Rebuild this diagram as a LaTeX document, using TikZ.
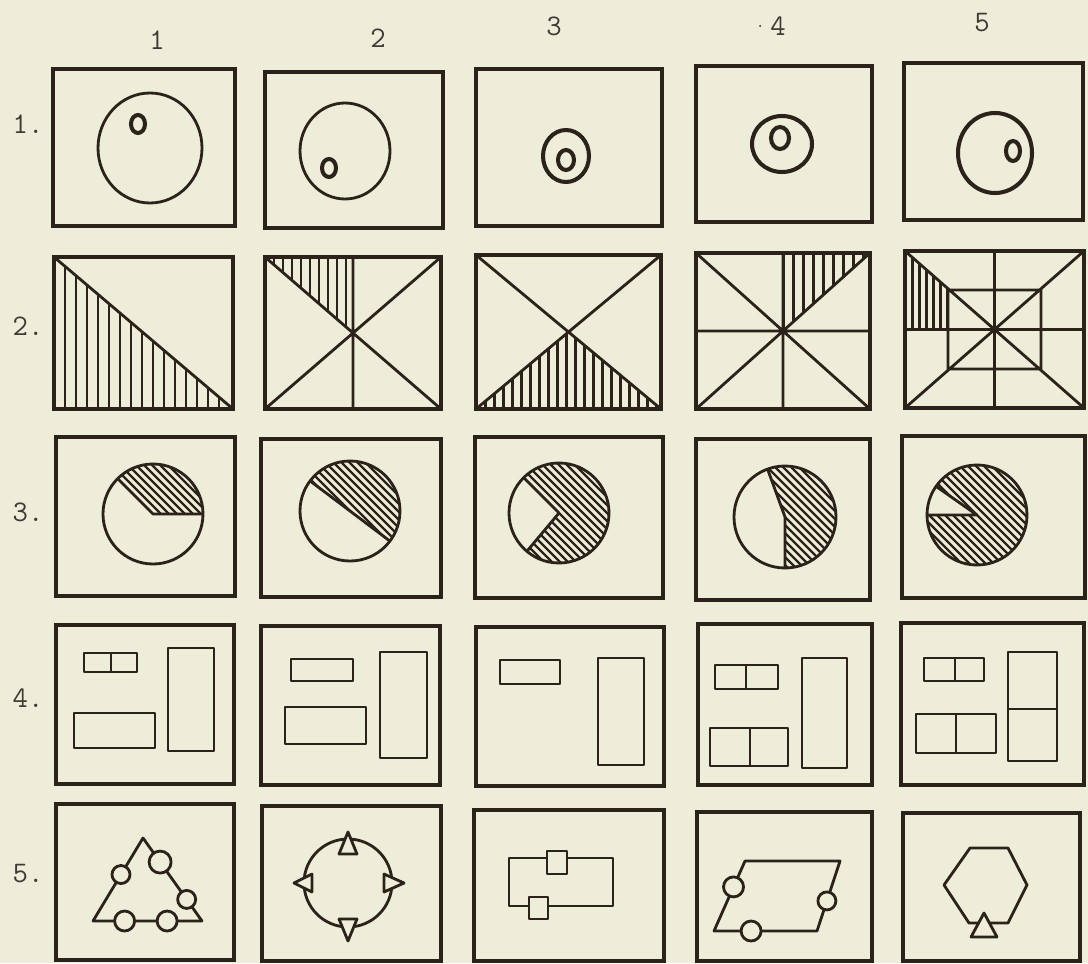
\documentclass[tikz,border=0pt]{standalone}
\usetikzlibrary{calc, positioning}
\definecolor{paper}{HTML}{EEEDD9}
\definecolor{ink}{HTML}{2B2219}
\definecolor{typed}{HTML}{3F3a33}

% hatched piece of a disc: centre, start angle, end angle, radius
\newcommand{\hatchwedge}[4]{%
  \begin{scope}
    \clip (#1) -- ++(#2:#4) arc[start angle=#2, end angle=#3, radius=#4] -- cycle;
    \foreach \k in {-96,-88,...,96}
      \draw[dhatch] ($(#1)+(\k-80,-80)$) -- ++(160,160);
  \end{scope}
  \draw[shp] (#1) circle [radius=#4];
  \draw[shp] ($(#1)+(#2:#4)$) -- (#1) -- ($(#1)+(#3:#4)$);
}

\begin{document}
\begin{tikzpicture}[x=0.02cm, y=-0.02cm,
    every node/.style={font=\ttfamily\fontsize{17}{17}\selectfont, text=typed, inner sep=0pt},
    frame/.style={line width=1.8pt, draw=ink},
    shp/.style={line width=1.6pt, draw=ink, line join=round},
    ring/.style={line width=2.3pt, draw=ink},
    vhatch/.style={line width=1.7pt, ink},
    dhatch/.style={line width=1.3pt, ink},
    blank/.style={shp, fill=paper}
]
    \fill[paper] (0,0) rectangle (1088,963);
    \useasboundingbox (0,0) rectangle (1088,963);

    % column and row numbers
    \node (col1) at (157,40) {1};
    \node (col2) at (378,38) {2};
    \node (col3) at (554,26) {3};
    \node (col4) at (778,26) {4};
    \node[left=3pt of col4.west] (tick) {\fontsize{9}{9}\selectfont.};
    \node (col5) at (982,23) {5};
    \node (row1) at (28,124) {1.};
    \node (row2) at (28,326) {2.};
    \node (row3) at (28,512) {3.};
    \node (row4) at (28,698) {4.};
    \node (row5) at (28,874) {5.};

    % row 1: circles with a small ring
    \draw[frame] (53,69) rectangle (235,226);
    \draw[shp] (150,148) ellipse [x radius=52, y radius=55];
    \draw[ring] (138,124) ellipse [x radius=7, y radius=9];
    \draw[frame] (265,72) rectangle (443,228);
    \draw[shp] (345,151) ellipse [x radius=45, y radius=48];
    \draw[ring] (329,168) ellipse [x radius=7, y radius=9];
    \draw[frame] (476,69) rectangle (662,226);
    \draw[ring] (566,156) ellipse [x radius=23, y radius=26];
    \draw[ring] (566,160) ellipse [x radius=8, y radius=10];
    \draw[frame] (696,66) rectangle (872,222);
    \draw[ring] (782,144) ellipse [x radius=30, y radius=28];
    \draw[ring] (780,138) ellipse [x radius=9, y radius=11];
    \draw[frame] (904,63) rectangle (1083,220);
    \draw[ring] (995,153) ellipse [x radius=37, y radius=40];
    \draw[ring] (1013,151) ellipse [x radius=7, y radius=10];

    % row 2: divided squares
    \draw[frame] (54,257) rectangle (233,409);
    \begin{scope}
        \clip (54,257) -- (233,409) -- (54,409) -- cycle;
        \foreach \x in {54,65,...,233} \draw[vhatch] (\x,257) -- (\x,409);
    \end{scope}
    \draw[shp] (54,257) -- (233,409);

    \draw[frame] (265,257) rectangle (441,409);
    \begin{scope}
        \clip (265,257) -- (353,257) -- (353,333) -- cycle;
        \foreach \x in {265,274,...,353} \draw[vhatch] (\x,257) -- (\x,333);
    \end{scope}
    \draw[shp] (265,257) -- (441,409) (441,257) -- (265,409) (353,257) -- (353,409);

    \draw[frame] (476,255) rectangle (661,409);
    \begin{scope}
        \clip (476,409) -- (661,409) -- (568.5,332) -- cycle;
        \foreach \x in {476,485,...,661} \draw[vhatch] (\x,332) -- (\x,409);
    \end{scope}
    \draw[shp] (476,255) -- (661,409) (661,255) -- (476,409);

    \draw[frame] (696,253) rectangle (870,409);
    \begin{scope}
        \clip (783,253) -- (870,253) -- (783,331) -- cycle;
        \foreach \x in {783,793,...,870} \draw[vhatch] (\x,253) -- (\x,331);
    \end{scope}
    \draw[shp] (696,253) -- (870,409) (870,253) -- (696,409)
        (783,253) -- (783,409) (696,331) -- (870,331);

    \draw[frame] (905,251) rectangle (1084,408);
    \begin{scope}
        \clip (905,251) -- (948,288.7) -- (948,329.5) -- (905,329.5) -- cycle;
        \foreach \x in {905,912,...,948} \draw[vhatch] (\x,251) -- (\x,330);
    \end{scope}
    \draw[shp] (905,251) -- (1084,408) (1084,251) -- (905,408)
        (994.5,251) -- (994.5,408) (905,329.5) -- (1084,329.5)
        (948,290) rectangle (1041,369);

    % row 3: hatched discs
    \draw[frame] (56,437) rectangle (235,596);
    \coordinate (d1) at (153,514);
    \hatchwedge{d1}{0}{-135}{50}
    \draw[frame] (261,439) rectangle (441,597);
    \coordinate (d2) at (350,511);
    \hatchwedge{d2}{37}{-143}{50}
    \draw[frame] (475,437) rectangle (663,598);
    \coordinate (d3) at (559,513);
    \hatchwedge{d3}{130}{-135}{50}
    \draw[frame] (696,439) rectangle (870,600);
    \coordinate (d4) at (785,517);
    \hatchwedge{d4}{-110}{90}{51}
    \draw[frame] (902,436) rectangle (1085,598);
    \coordinate (d5) at (977,515);
    \hatchwedge{d5}{180}{-145}{50}

    % row 4: rectangles
    \draw[frame] (56,625) rectangle (234,784);
    \draw[shp] (84,653) rectangle (137,672) (111,653) -- (111,672);
    \draw[shp] (74,713) rectangle (155,748);
    \draw[shp] (168,648) rectangle (214,751);
    \draw[frame] (261,626) rectangle (440,785);
    \draw[shp] (291,659) rectangle (353,681);
    \draw[shp] (285,707) rectangle (366,744);
    \draw[shp] (380,652) rectangle (427,758);
    \draw[frame] (476,627) rectangle (664,786);
    \draw[shp] (500,660) rectangle (560,684);
    \draw[shp] (598,658) rectangle (644,765);
    \draw[frame] (698,624) rectangle (872,785);
    \draw[shp] (715,665) rectangle (778,689) (746,665) -- (746,689);
    \draw[shp] (710,728) rectangle (788,766) (750,728) -- (750,766);
    \draw[shp] (802,658) rectangle (847,768);
    \draw[frame] (901,623) rectangle (1084,785);
    \draw[shp] (924,658) rectangle (984,681) (955,658) -- (955,681);
    \draw[shp] (916,714) rectangle (996,753) (956,714) -- (956,753);
    \draw[shp] (1008,652) rectangle (1057,761) (1008,709) -- (1057,709);

    % row 5: outlines with small marks
    \draw[frame] (56,804) rectangle (234,960);
    \coordinate (ta) at (143,838);
    \coordinate (tb) at (93,921);
    \coordinate (tc) at (202,921);
    \draw[shp] (ta) -- (tb) -- (tc) -- cycle;
    \foreach \p/\q/\t/\rad in {ta/tb/0.44/9, ta/tc/0.29/11, ta/tc/0.74/9, tb/tc/0.29/10, tb/tc/0.68/10}
        \filldraw[blank] ($(\p)!\t!(\q)$) circle [radius=\rad];

    \draw[frame] (262,806) rectangle (441,961);
    \coordinate (o2) at (348,883);
    \draw[shp] (o2) circle [radius=44];
    \foreach \a/\din/\dout in {-90/15/7, 180/8/10, 0/8/12, 90/8/14}
        \filldraw[blank] ($(o2)+(\a:{44-\din})+({\a+90}:9)$) -- ($(o2)+(\a:{44+\dout})$)
            -- ($(o2)+(\a:{44-\din})-({\a+90}:9)$) -- cycle;

    \draw[frame] (474,810) rectangle (664,961);
    \draw[shp] (509,858) rectangle (613,906);
    \filldraw[blank] (547,851) rectangle (567,874);
    \filldraw[blank] (529,897) rectangle (548,919);

    \draw[frame] (697,812) rectangle (872,961);
    \coordinate (pa) at (745,861);
    \coordinate (pb) at (840,861);
    \coordinate (pc) at (817,931);
    \coordinate (pd) at (714,931);
    \draw[shp] (pa) -- (pb) -- (pc) -- (pd) -- cycle;
    \foreach \p/\q/\t/\rad in {pa/pd/0.37/10, pb/pc/0.57/9, pd/pc/0.36/10}
        \filldraw[blank] ($(\p)!\t!(\q)$) circle [radius=\rad];

    \draw[frame] (903,813) rectangle (1080,961);
    \draw[shp] (970,848) -- (1008,848) -- (1027,885) -- (1008,923) -- (969,923) -- (944,885) -- cycle;
    \filldraw[blank] (984,913) -- (997,937) -- (971,937) -- cycle;
\end{tikzpicture}
\end{document}
